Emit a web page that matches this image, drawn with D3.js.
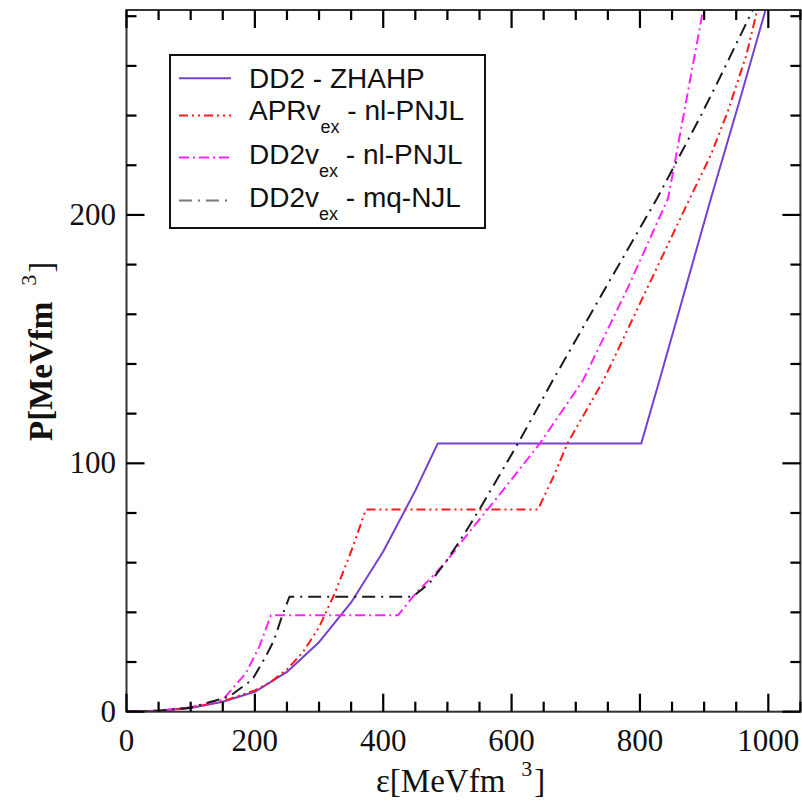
<!DOCTYPE html>
<html>
<head>
<meta charset="utf-8">
<script src="https://cdn.jsdelivr.net/npm/d3@7"></script>
<style>
  body { margin: 0; background: #fff; }
  svg { display: block; }
</style>
</head>
<body>
<svg id="chart" width="802" height="803"></svg>
<script>
// Equation of state P(epsilon) for four hybrid models, MeV fm^-3

// DD2 - ZHAHP
const zhahpEps = [0, 50, 100, 150, 200, 250, 300, 350, 400, 450, 485, 802, 830, 911, 955, 994, 1000];
const zhahpP   = [0, 0.4, 1.5, 4, 8, 16, 28, 44, 64.5, 89, 108, 108, 133, 207, 245.8, 281, 286.5];

// APRv_ex - nl-PNJL
const aprNlEps = [0, 50, 100, 150, 200, 225, 250, 275, 300, 325, 350, 373, 641, 665, 687, 743, 878, 911, 937, 966, 981, 988];
const aprNlP   = [0, 0.4, 1.6, 4.2, 8.6, 12, 17, 24, 34, 48, 64.5, 81.4, 81.4, 94.5, 108, 133.3, 206.8, 224.4, 241.8, 264.5, 280.6, 290];

// DD2v_ex - nl-PNJL
const dd2NlEps = [0, 50, 100, 150, 186, 207, 225, 423, 450, 475, 500, 530, 564, 600, 644, 711, 780, 844, 870, 898, 905];
const dd2NlP   = [0, 0.4, 1.8, 4.8, 15.5, 26.2, 38.8, 38.8, 47.5, 54, 61, 71, 81.9, 93.5, 108, 133.3, 170, 206.8, 243, 282, 292];

// DD2v_ex - mq-NJL
const dd2MqEps = [0, 50, 100, 160, 196, 217, 230, 243, 254, 446, 472, 498, 525, 551, 610, 664, 745, 827, 893, 924, 971, 980];
const dd2MqP   = [0, 0.4, 1.6, 6.1, 12.9, 22.2, 28.9, 39, 46.3, 46.3, 51.7, 60.5, 71, 81.9, 108, 133.3, 170, 206.8, 239, 255, 280, 285];

const xMajorTicks = [0, 200, 400, 600, 800, 1000];
const yMajorTicks = [0, 100, 200];

const seriesNames  = ["DD2 - ZHAHP", "APRv", "DD2v", "DD2v"];
const seriesSubs   = ["", "ex", "ex", "ex"];
const seriesTails  = ["", " - nl-PNJL", " - nl-PNJL", " - mq-NJL"];
const seriesColors = ["#7440d4", "#ff1a1a", "#ff22ff", "#1a1a1a"];
const seriesDashes = [null, "9,4,2,4,2,4", "10,4,2,4", "13,6,2,6"];

const series = [
  { eps: zhahpEps, p: zhahpP },
  { eps: aprNlEps, p: aprNlP },
  { eps: dd2NlEps, p: dd2NlP },
  { eps: dd2MqEps, p: dd2MqP }
];

const svg = d3.select("#chart");
const plotLeft = 126.5, plotRight = 800.4, plotTop = 10, plotBottom = 711.7;
const xScale = d3.scaleLinear().domain([0, 1050]).range([plotLeft, plotRight]);
const yScale = d3.scaleLinear().domain([0, 282.5]).range([plotBottom, plotTop]);

svg.append("defs").append("clipPath").attr("id", "plotClip")
  .append("rect").attr("x", plotLeft).attr("y", plotTop)
  .attr("width", plotRight - plotLeft).attr("height", plotBottom - plotTop);

// curves
const curveLine = d3.line().x(d => xScale(d[0])).y(d => yScale(d[1]));
const curves = svg.append("g").attr("clip-path", "url(#plotClip)");
series.forEach((s, i) => {
  curves.append("path")
    .datum(s.eps.map((e, k) => [e, s.p[k]]))
    .attr("d", curveLine)
    .attr("fill", "none")
    .attr("stroke", seriesColors[i])
    .attr("stroke-width", 2)
    .attr("stroke-dasharray", seriesDashes[i])
    .attr("stroke-linejoin", "round");
});

// frame
svg.append("rect")
  .attr("x", plotLeft).attr("y", plotTop)
  .attr("width", plotRight - plotLeft).attr("height", plotBottom - plotTop)
  .attr("fill", "none").attr("stroke", "#333").attr("stroke-width", 2);

// tick marks point inward on all four sides, drawn as thin filled bars
const tickFont = "'Liberation Serif', 'Times New Roman', serif";
const xMinor = d3.range(0, 1051, 50).filter(v => v % 200 !== 0);
const yMinor = d3.range(0, 283, 20).filter(v => v % 100 !== 0);
const majorLen = 18, minorLen = 10, tickW = 2.2;

const tickBars = [];
function addXTicks(values, len) {
  values.forEach(v => {
    const px = xScale(v) - tickW / 2;
    tickBars.push({ x: px, y: plotBottom - len, w: tickW, h: len });
    tickBars.push({ x: px, y: plotTop, w: tickW, h: len });
  });
}
function addYTicks(values, len) {
  values.forEach(v => {
    const py = yScale(v) - tickW / 2;
    tickBars.push({ x: plotLeft, y: py, w: len, h: tickW });
    tickBars.push({ x: plotRight - len, y: py, w: len, h: tickW });
  });
}
addXTicks(xMajorTicks, majorLen);
addXTicks(xMinor, minorLen);
addYTicks(yMajorTicks, majorLen);
addYTicks(yMinor, minorLen);

svg.append("g").attr("fill", "#000")
  .selectAll("rect").data(tickBars).join("rect")
  .attr("x", d => d.x).attr("y", d => d.y)
  .attr("width", d => d.w).attr("height", d => d.h);

// tick labels
svg.append("g").selectAll("text").data(xMajorTicks).join("text")
  .attr("x", d => xScale(d)).attr("y", 751)
  .attr("text-anchor", "middle")
  .attr("font-family", tickFont).attr("font-size", 31).attr("fill", "#111")
  .text(d => d3.format("d")(d));
svg.append("g").selectAll("text").data(yMajorTicks).join("text")
  .attr("x", 116).attr("y", d => yScale(d) + 10)
  .attr("text-anchor", "end")
  .attr("font-family", tickFont).attr("font-size", 31).attr("fill", "#111")
  .text(d => d3.format("d")(d));

// axis titles
const xt = svg.append("text")
  .attr("x", 376).attr("y", 792)
  .attr("font-family", tickFont).attr("font-size", 33).attr("fill", "#111");
xt.append("tspan").text("ε[MeVfm");
xt.append("tspan").attr("dx", 16).attr("dy", -16).attr("font-size", 22).text("3");
xt.append("tspan").attr("dx", 2).attr("dy", 16).text("]");

const yt = svg.append("text")
  .attr("transform", "translate(52,441) rotate(-90)")
  .attr("font-family", tickFont).attr("font-size", 33)
  .attr("font-weight", "bold").attr("fill", "#111");
yt.append("tspan").text("P[MeVfm");
yt.append("tspan").attr("dx", 16).attr("dy", -16).attr("font-size", 22).attr("font-weight", "normal").text("3");
yt.append("tspan").attr("dx", 2).attr("dy", 16).attr("font-weight", "normal").text("]");

// legend
const legend = svg.append("g");
legend.append("rect")
  .attr("x", 170).attr("y", 55).attr("width", 315).attr("height", 173)
  .attr("fill", "#fff").attr("stroke", "#111").attr("stroke-width", 2);

const rowLineY = [78.3, 115.5, 157.5, 200.5];
const rowBaseY = [88.3, 120, 164, 207];
const legendFont = "'Liberation Sans', Arial, Helvetica, sans-serif";
seriesNames.forEach((name, i) => {
  legend.append("line")
    .attr("x1", 179).attr("x2", 231)
    .attr("y1", rowLineY[i]).attr("y2", rowLineY[i])
    .attr("stroke", i === 3 ? "#777" : seriesColors[i])
    .attr("stroke-width", 2)
    .attr("stroke-dasharray", seriesDashes[i]);
  const t = legend.append("text")
    .attr("x", 249).attr("y", rowBaseY[i])
    .attr("font-family", legendFont).attr("font-size", 28).attr("fill", "#111");
  t.append("tspan").text(name);
  if (seriesSubs[i]) {
    t.append("tspan").attr("dy", 13).attr("font-size", 18).text(seriesSubs[i]);
    t.append("tspan").attr("dy", -13).text(seriesTails[i]);
  }
});
</script>
</body>
</html>
